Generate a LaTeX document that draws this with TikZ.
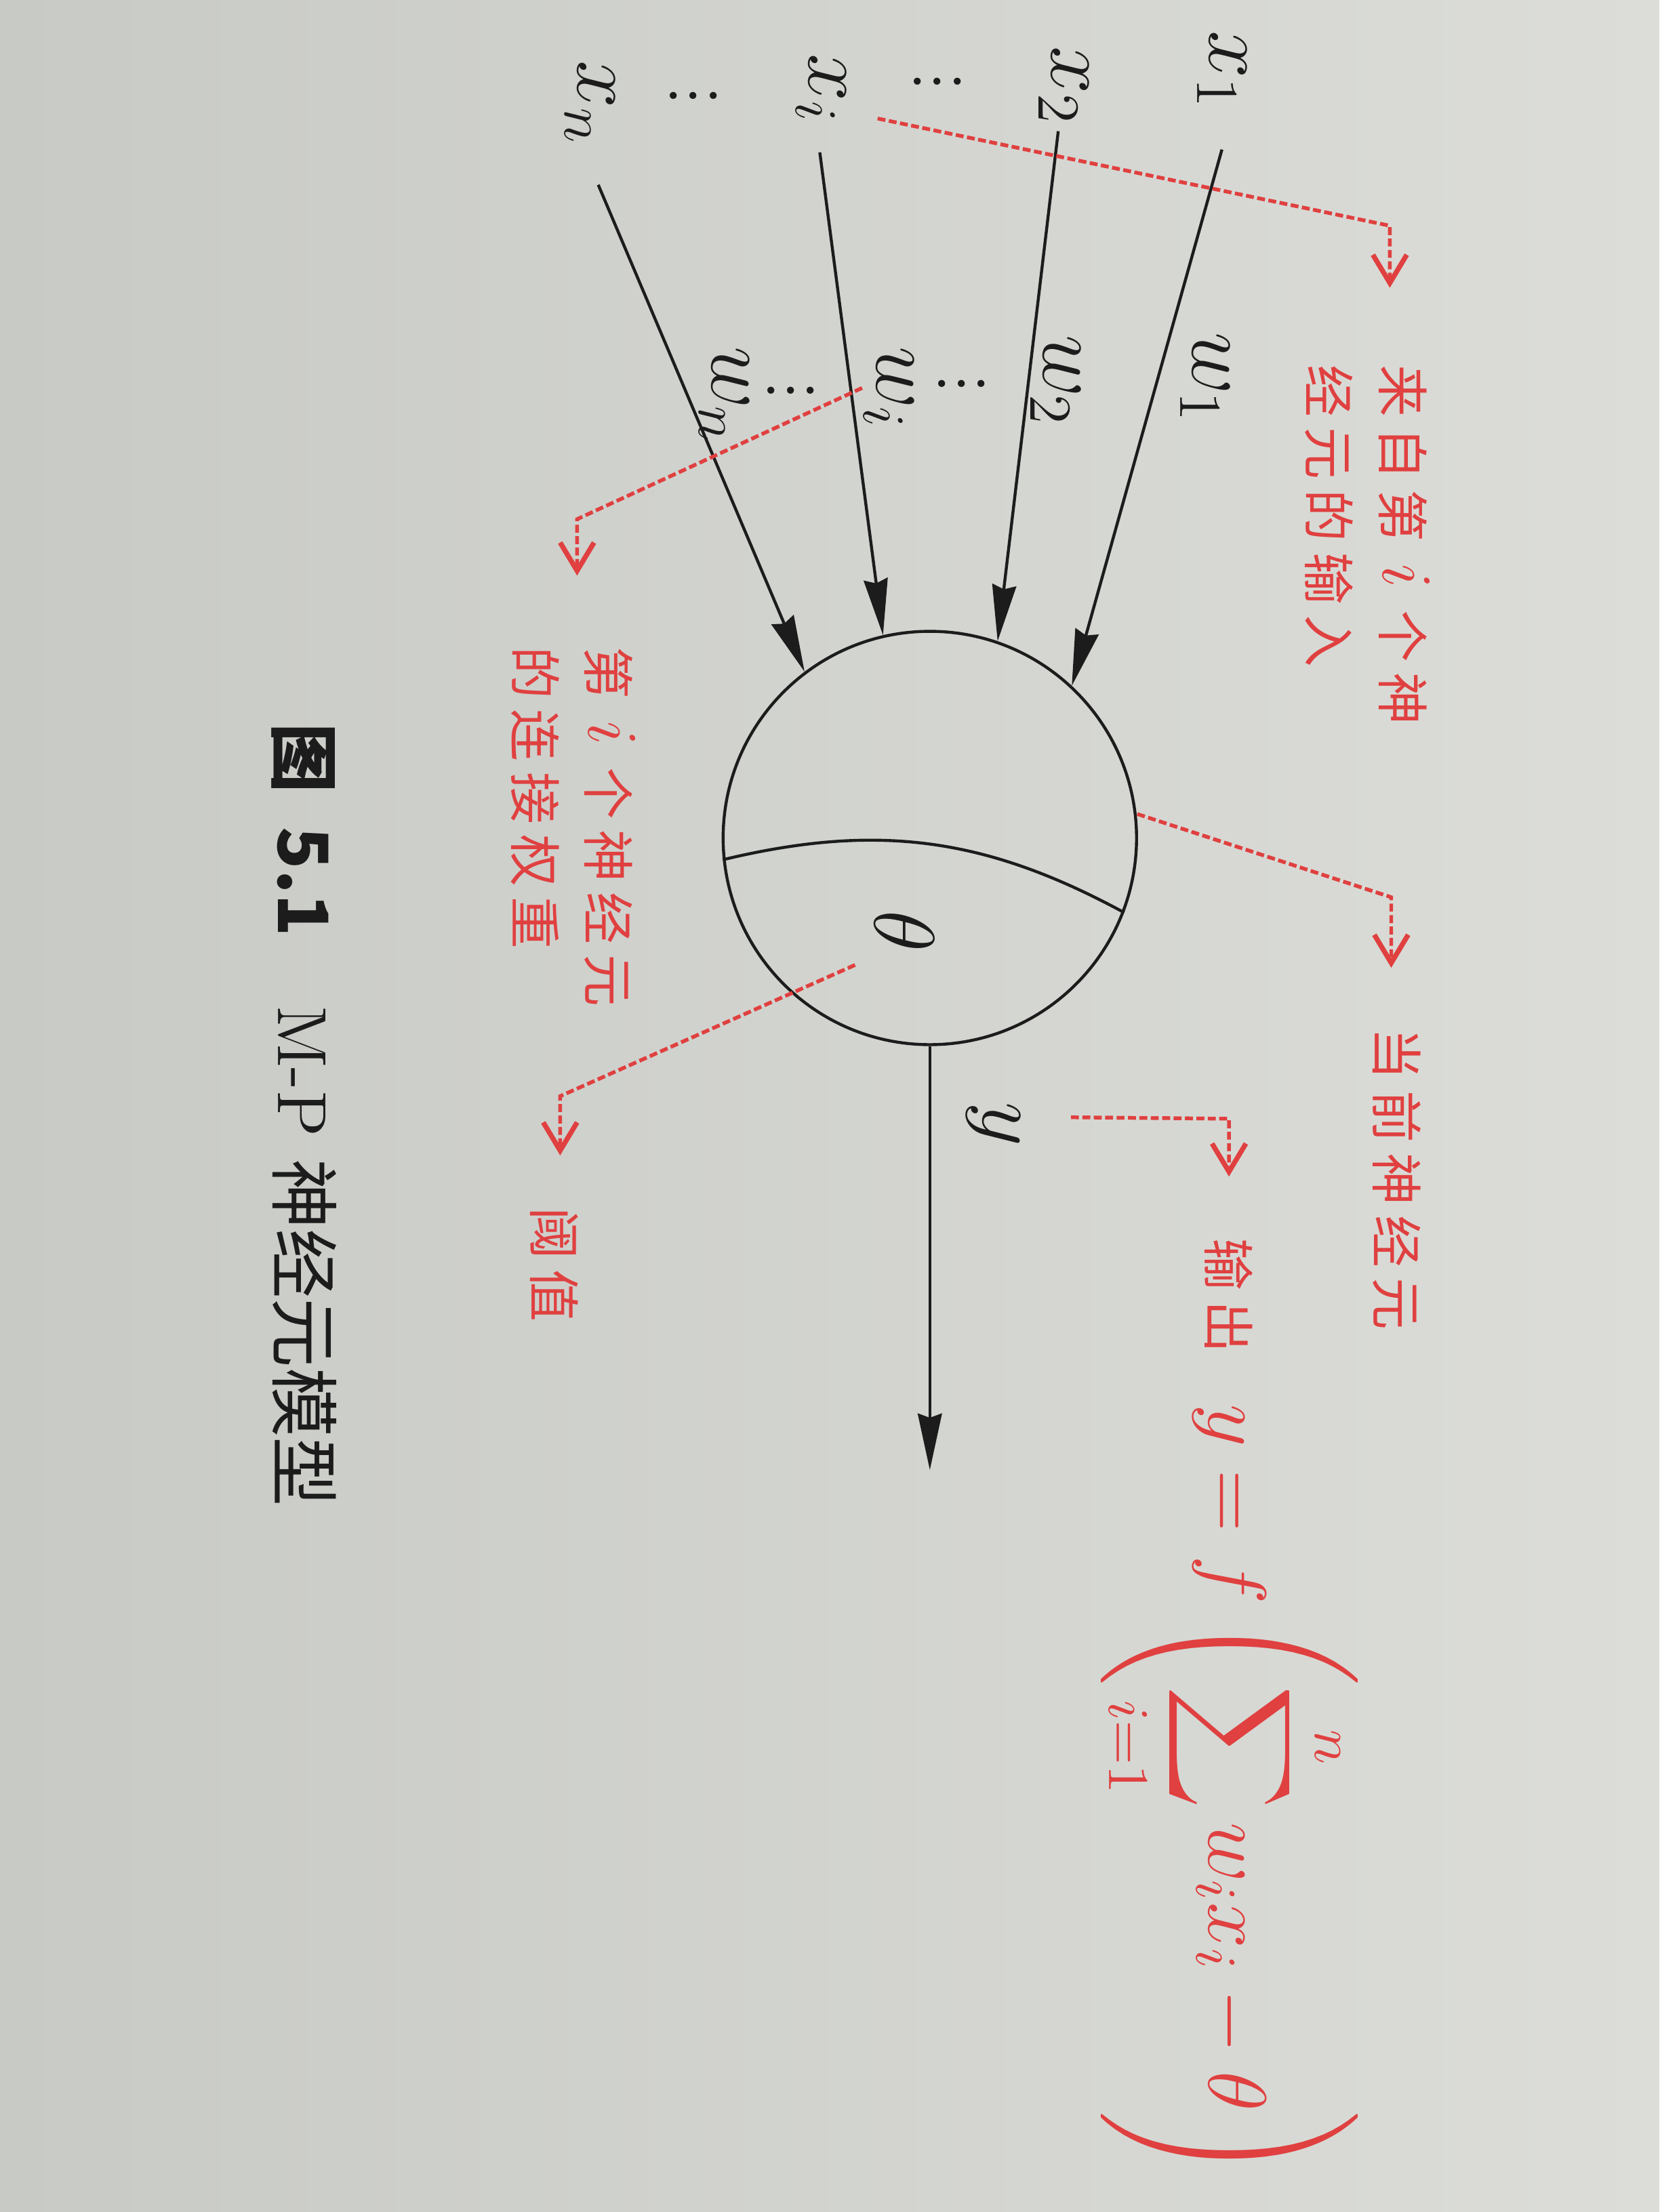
\RequirePackage{fix-cm}
\documentclass[tikz,border=0pt]{standalone}
\usepackage{amsmath}
\usepackage{fontspec}
\usepackage{tikz}
\usetikzlibrary{arrows.meta,positioning}
\newfontfamily\cjk[LetterSpace=20]{Noto Sans CJK SC}
\newfontfamily\capcjk{Noto Sans CJK SC}
\newcommand{\redi}{{\fontsize{14.4}{16}\selectfont$i$}}
\definecolor{ink}{HTML}{1C1C1C}
\definecolor{note}{HTML}{E04040}
\definecolor{paperl}{HTML}{C8CAC6}
\definecolor{paperr}{HTML}{DCDDD8}
\tikzset{
  lbl/.style={rotate=-90,inner sep=0pt,text=ink,font=\fontsize{17.28}{20}\selectfont},
  tag/.style={rotate=-90,inner sep=0pt,text=note,align=left,font=\fontsize{10.5}{14.8}\selectfont\cjk},
  fl/.style={-{Stealth[length=4mm,width=1.7mm,inset=0.3mm]},draw=ink,line width=0.6pt},
  lead/.style={-{Straight Barb[length=2mm,width=2.4mm,line width=1pt]},draw=note,line width=0.75pt,dash pattern=on 1.6pt off 0.7pt},
}

\begin{document}
\begin{tikzpicture}[x=0.1mm,y=-0.1mm]
\shade[left color=paperl,right color=paperr] (0,0) rectangle (1176,1568);
\useasboundingbox (0,0) rectangle (1176,1568);
\node[circle,draw=ink,line width=0.6pt,minimum size=29.3mm,inner sep=0pt] (neuron) at (659,594) {};
\draw[ink,line width=0.6pt] (neuron.186.9) to[bend left=21] (neuron.-21.4);
\node[lbl] (theta) at (641,660) {$\theta$};
\foreach \n/\lx/\ly/\sx/\sy/\a/\t in {
  1/866/50/866/106/47.7/x_1,
  2/754/61/750/93/71.3/x_2,
  i/582/63/581/108/103.9/x_i,
  n/418/73/424/131/127.8/x_n} {
  \node[lbl] (x\n) at (\lx,\ly) {$\t$};
  \coordinate (s\n) at (\sx,\sy);
  \draw[fl] (s\n) -- (neuron.\a);
}
\foreach \n/\lx/\ly/\t in {1/854/268/w_1, 2/748/270/w_2, i/630/275/w_i, n/513/280/w_n}
  \node[lbl] (w\n) at (\lx,\ly) {$\t$};
\foreach \n/\lx/\ly in {a/675/58, b/502/68, c/692/272, d/571/277}
  \node[lbl] (dots\n) at (\lx,\ly) {$\vdots$};
\coordinate (yend) at (659,1042);
\draw[fl] (neuron.south) -- (yend);
\node[lbl] (yout) at (704,797) {$y$};
\foreach \n/\ax/\ay/\bx/\by/\cy in {in/622/84/985/160/204, cur/806/577/986/636/686,
    out/759/792/871/793/834, wt/611/275/409/368/408, th/606/684/397/777/819} {
  \coordinate (\n a) at (\ax,\ay);
  \coordinate (\n b) at (\bx,\by);
  \coordinate (\n c) at (\bx,\cy);
  \draw[lead] (\n a) -- (\n b) -- (\n c);
}
\node[tag,anchor=north west] (tin) at (1014,258) {来自第 \redi{} 个神\\经元的输入};
\node[tag,anchor=base west] (tcur) at (976,728) {当前神经元};
\node[tag,anchor=base west] (tout) at (857,877)
  {输出\quad{\fontsize{16.6}{20}\selectfont$\displaystyle y=f\left(\sum_{i=1}^{n}w_ix_i-\theta\right)$}};
\node[tag,anchor=north west] (twt) at (451,458) {第 \redi{} 个神经元\\的连接权重};
\node[tag,anchor=base west] (tth) at (379,855) {阈值};
\node[rotate=-90,inner sep=0pt,anchor=base west,text=ink,font=\fontsize{14}{16}\selectfont] (cap) at (197,512)
  {{\capcjk\bfseries 图\enspace 5.1}\quad M-P {\capcjk 神经元模型}};
\end{tikzpicture}
\end{document}
